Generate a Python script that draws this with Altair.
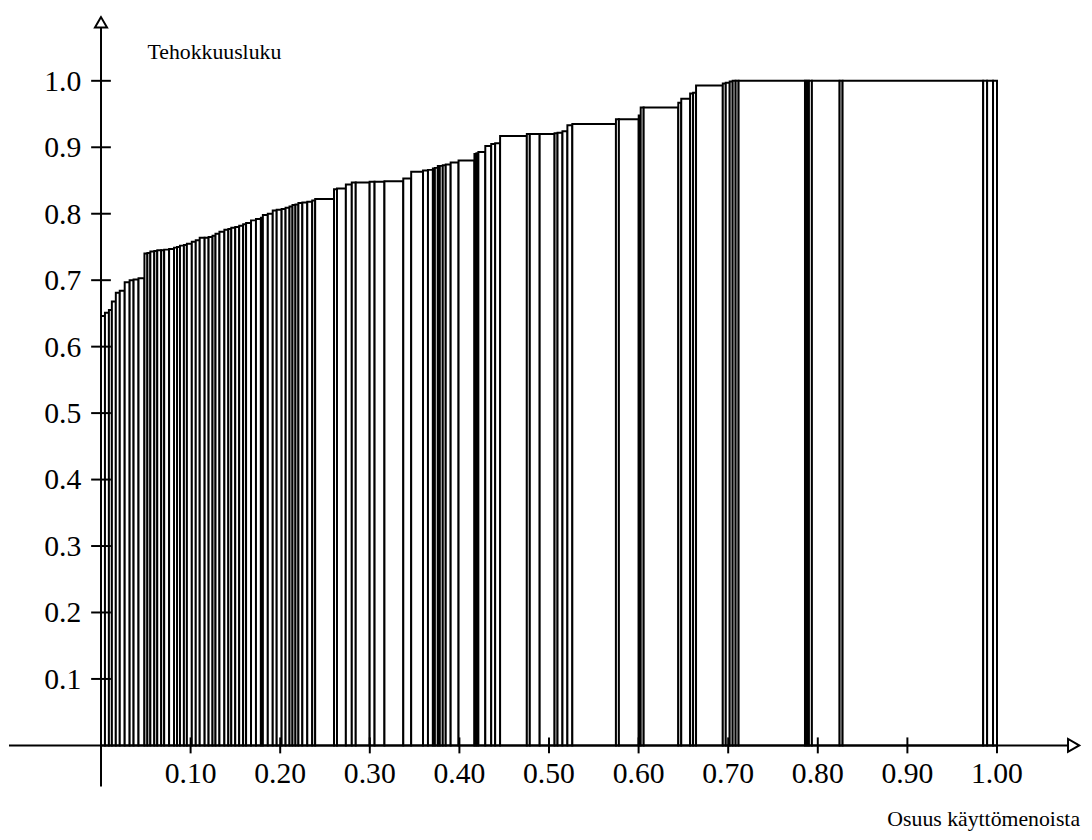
import altair as alt
import pandas as pd

# share of operating costs (bar widths) and efficiency score (bar heights), sorted by efficiency
shares = [
    0.0044, 0.0044, 0.0033, 0.0044, 0.0044, 0.0055, 0.0055, 0.0044, 0.0055, 0.0066,
    0.0033, 0.0033, 0.0044, 0.0033, 0.0044, 0.0033, 0.0055, 0.0055, 0.0033, 0.0033,
    0.0044, 0.0033, 0.0055, 0.0044, 0.0044, 0.0055, 0.0044, 0.0044, 0.0033, 0.0044,
    0.0055, 0.0044, 0.0033, 0.0044, 0.0044, 0.0044, 0.0033, 0.0055, 0.0055, 0.0055,
    0.0022, 0.0055, 0.0055, 0.0044, 0.0055, 0.0044, 0.0044, 0.0033, 0.0033, 0.0033,
    0.0044, 0.0055, 0.0055, 0.0033, 0.0210,
    0.0033, 0.0099, 0.0066, 0.0044, 0.0155, 0.0055, 0.0110, 0.0210, 0.0088, 0.0132,
    0.0055, 0.0055, 0.0022, 0.0033, 0.0022, 0.0033, 0.0033, 0.0055, 0.0088, 0.0177,
    0.0022, 0.0022, 0.0077, 0.0066, 0.0044, 0.0055, 0.0298, 0.0033, 0.0110, 0.0166,
    0.0033, 0.0055, 0.0055, 0.0055, 0.0486, 0.0033, 0.0221, 0.0022, 0.0033, 0.0386,
    0.0033, 0.0099, 0.0033, 0.0033, 0.0298, 0.0033, 0.0044, 0.0033, 0.0033, 0.0033,
    0.0740, 0.0022, 0.0022, 0.0033, 0.0309, 0.0033, 0.1567, 0.0044, 0.0066, 0.0044,
]
efficiency = [
    0.646, 0.651, 0.655, 0.668, 0.681, 0.684, 0.697, 0.700, 0.701, 0.703,
    0.740, 0.741, 0.743, 0.744, 0.745, 0.745, 0.746, 0.747, 0.749, 0.750,
    0.752, 0.753, 0.755, 0.758, 0.760, 0.764, 0.764, 0.765, 0.767, 0.770,
    0.773, 0.776, 0.777, 0.779, 0.780, 0.782, 0.784, 0.786, 0.790, 0.792,
    0.794, 0.798, 0.800, 0.805, 0.806, 0.807, 0.809, 0.811, 0.813, 0.814,
    0.816, 0.817, 0.818, 0.820, 0.822,
    0.837, 0.838, 0.844, 0.847, 0.847, 0.848, 0.848, 0.849, 0.853, 0.863,
    0.865, 0.866, 0.868, 0.869, 0.872, 0.872, 0.873, 0.874, 0.877, 0.880,
    0.890, 0.891, 0.893, 0.902, 0.905, 0.906, 0.917, 0.920, 0.920, 0.920,
    0.921, 0.922, 0.924, 0.933, 0.935, 0.942, 0.942, 0.948, 0.960, 0.960,
    0.967, 0.973, 0.981, 0.982, 0.993, 0.996, 0.997, 0.999, 1.000, 1.000,
    1.000, 1.000, 1.000, 1.000, 1.000, 1.000, 1.000, 1.000, 1.000, 1.000,
]

y_ticks = [0.1, 0.2, 0.3, 0.4, 0.5, 0.6, 0.7, 0.8, 0.9, 1.0]
y_tick_labels = ["0.1", "0.2", "0.3", "0.4", "0.5", "0.6", "0.7", "0.8", "0.9", "1.0"]
x_ticks = [0.1, 0.2, 0.3, 0.4, 0.5, 0.6, 0.7, 0.8, 0.9, 1.0]
x_tick_labels = ["0.10", "0.20", "0.30", "0.40", "0.50", "0.60", "0.70", "0.80", "0.90", "1.00"]
y_title = "Tehokkuusluku"
x_title = "Osuus käyttömenoista"

# axis extents (data units)
x_axis_from, x_axis_to = -0.1027, 1.080
y_axis_from, y_axis_to = -0.062, 1.082

FONT = "Liberation Serif"
FS_TICK = 30
FS_TITLE = 22

# bar edges from cumulative shares
x0, x1, acc = [], [], 0.0
for s in shares:
    x0.append(acc)
    acc += s
    x1.append(acc)
total = acc
bars = pd.DataFrame({
    "x0": [v / total for v in x0],
    "x1": [v / total for v in x1],
    "eff": efficiency,
    "base": [0.0] * len(shares),
})

xs = alt.Scale(domain=[-0.1027, 1.0938], nice=False, zero=False)
ys = alt.Scale(domain=[-0.1235, 1.1027], nice=False, zero=False)

rects = alt.Chart(bars).mark_rect(fill="white", stroke="black", strokeWidth=2).encode(
    x=alt.X("x0:Q", scale=xs, axis=None),
    x2="x1:Q",
    y=alt.Y("base:Q", scale=ys, axis=None),
    y2="eff:Q",
)

xaxis = alt.Chart(pd.DataFrame({"a": [x_axis_from], "b": [x_axis_to], "y": [0.0]})).mark_rule(
    color="black", strokeWidth=2).encode(
    x=alt.X("a:Q", scale=xs, axis=None), x2="b:Q", y=alt.Y("y:Q", scale=ys, axis=None))

yaxis = alt.Chart(pd.DataFrame({"x": [0.0], "a": [y_axis_from], "b": [y_axis_to]})).mark_rule(
    color="black", strokeWidth=2).encode(
    x=alt.X("x:Q", scale=xs, axis=None), y=alt.Y("a:Q", scale=ys, axis=None), y2="b:Q")

up_arrow = alt.Chart(pd.DataFrame({"x": [0.0], "y": [y_axis_to]})).mark_point(
    shape="triangle-up", size=150, filled=True, fill="white", stroke="black", strokeWidth=2,
    opacity=1, yOffset=-4).encode(
    x=alt.X("x:Q", scale=xs, axis=None), y=alt.Y("y:Q", scale=ys, axis=None))

right_arrow = alt.Chart(pd.DataFrame({"x": [x_axis_to], "y": [0.0]})).mark_point(
    shape="triangle-right", size=170, filled=True, fill="white", stroke="black", strokeWidth=2,
    opacity=1, xOffset=5).encode(
    x=alt.X("x:Q", scale=xs, axis=None), y=alt.Y("y:Q", scale=ys, axis=None))

ytick_df = pd.DataFrame({"v": y_ticks, "lab": y_tick_labels, "a": [-0.011] * 10, "b": [0.011] * 10})
xtick_df = pd.DataFrame({"v": x_ticks, "lab": x_tick_labels, "a": [-0.012] * 10, "b": [0.012] * 10})

yticks = alt.Chart(ytick_df).mark_rule(color="black", strokeWidth=2).encode(
    x=alt.X("a:Q", scale=xs, axis=None), x2="b:Q", y=alt.Y("v:Q", scale=ys, axis=None))
xticks = alt.Chart(xtick_df).mark_rule(color="black", strokeWidth=2).encode(
    x=alt.X("v:Q", scale=xs, axis=None), y=alt.Y("a:Q", scale=ys, axis=None), y2="b:Q")

ylabels = alt.Chart(ytick_df.assign(z=0.0)).mark_text(
    font=FONT, fontSize=FS_TICK, align="right", baseline="middle", dx=-20, dy=1, color="black").encode(
    x=alt.X("z:Q", scale=xs, axis=None), y=alt.Y("v:Q", scale=ys, axis=None), text="lab:N")
xlabels = alt.Chart(xtick_df.assign(z=0.0)).mark_text(
    font=FONT, fontSize=FS_TICK, align="center", baseline="middle", dy=29, color="black").encode(
    x=alt.X("v:Q", scale=xs, axis=None), y=alt.Y("z:Q", scale=ys, axis=None), text="lab:N")

ytitle = alt.Chart(pd.DataFrame({"x": [0.0], "y": [1.0], "t": [y_title]})).mark_text(
    font=FONT, fontSize=FS_TITLE, align="left", baseline="middle", dx=47, dy=-29, color="black").encode(
    x=alt.X("x:Q", scale=xs, axis=None), y=alt.Y("y:Q", scale=ys, axis=None), text="t:N")
xtitle = alt.Chart(pd.DataFrame({"x": [1.0], "y": [0.0], "t": [x_title]})).mark_text(
    font=FONT, fontSize=FS_TITLE, align="right", baseline="middle", dx=84, dy=74, color="black").encode(
    x=alt.X("x:Q", scale=xs, axis=None), y=alt.Y("y:Q", scale=ys, axis=None), text="t:N")

chart = alt.layer(
    rects, xaxis, yaxis, yticks, xticks, up_arrow, right_arrow, ylabels, xlabels, ytitle, xtitle
).properties(width=1084, height=824, padding=0, background="white").configure_view(stroke=None)

chart.save("out.html", embed_options={"renderer": "svg", "actions": False})
